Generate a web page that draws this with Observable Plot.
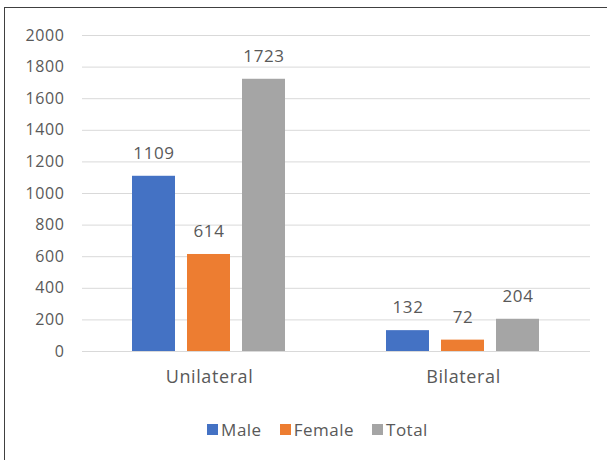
<!DOCTYPE html>
<html>
<head>
<meta charset="utf-8">
<script src="https://cdn.jsdelivr.net/npm/d3@7"></script>
<script src="https://cdn.jsdelivr.net/npm/@observablehq/plot@0.6"></script>
<style>
  html, body { margin: 0; padding: 0; background: #fff; }
  #frame {
    position: relative; width: 607px; height: 460px; box-sizing: border-box;
    overflow: hidden; background: #fff;
  }
  #frame .bl { position: absolute; left: 4px; top: 7px; width: 1px; height: 460px; background: #404040; }
  #frame .bt { position: absolute; left: 4px; top: 7px; width: 603px; height: 1px; background: #404040; }
  #chart { position: absolute; left: 0; top: 0; }
  #chart svg text { letter-spacing: 0.6px; }
  #legend {
    position: absolute; left: 14px; width: 607px; top: 418px;
    display: flex; justify-content: center; align-items: center;
    font-family: "Open Sans", sans-serif; font-size: 17px; color: #595959; letter-spacing: 0.5px;
  }
  #legend .item { display: flex; align-items: center; margin: 0 9px; }
  #legend .sw { width: 11px; height: 11px; margin-right: 3px; }
</style>
</head>
<body>
<div id="frame">
  <div class="bl"></div><div class="bt"></div>
  <div id="chart"></div>
  <div id="legend"></div>
</div>
<script>
const categories = ["Unilateral", "Bilateral"];
const series = ["Male", "Female", "Total"];
const male = [1109, 132];
const female = [614, 72];
const total = [1723, 204];
const colors = ["#4472C4", "#ED7D31", "#A5A5A5"];
const yTicks = [0, 200, 400, 600, 800, 1000, 1200, 1400, 1600, 1800, 2000];

const valuesBySeries = [male, female, total];
const data = [];
categories.forEach((c, i) => {
  series.forEach((s, j) => {
    data.push({category: c, sex: s, value: valuesBySeries[j][i]});
  });
});

const textColor = "#595959";
const plot = Plot.plot({
  width: 607,
  height: 400,
  marginLeft: 82,
  marginRight: 17,
  marginTop: 35,
  marginBottom: 49,
  style: {fontFamily: "'Open Sans', sans-serif", background: "transparent"},
  fx: {domain: categories, padding: 0, label: null},
  x: {domain: series, paddingInner: 0.214, paddingOuter: 0.875, axis: null},
  y: {domain: [0, 2000], label: null},
  color: {domain: series, range: colors},
  marks: [
    Plot.gridY(yTicks, {stroke: "#d9d9d9", strokeOpacity: 1, strokeWidth: 1}),
    Plot.axisY(yTicks, {tickSize: 0, tickPadding: 18, fontSize: 16, fill: textColor, label: null, tickFormat: d => String(d)}),
    Plot.axisFx({anchor: "bottom", tickSize: 0, tickPadding: 19, fontSize: 18, fill: textColor, label: null}),
    Plot.barY(data, {fx: "category", x: "sex", y: "value", fill: "sex"}),
    Plot.text(data, {fx: "category", x: "sex", y: "value", text: d => String(d.value), dy: -23, fontSize: 17, fill: textColor})
  ]
});
document.getElementById("chart").appendChild(plot);

const legend = document.getElementById("legend");
series.forEach((s, j) => {
  const item = document.createElement("div");
  item.className = "item";
  const sw = document.createElement("span");
  sw.className = "sw";
  sw.style.background = colors[j];
  const lab = document.createElement("span");
  lab.textContent = s;
  item.appendChild(sw);
  item.appendChild(lab);
  legend.appendChild(item);
});
</script>
</body>
</html>
